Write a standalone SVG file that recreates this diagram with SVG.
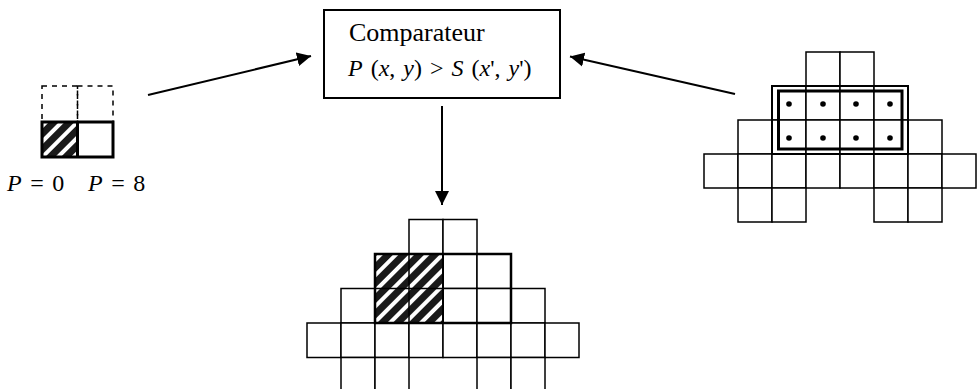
<svg xmlns="http://www.w3.org/2000/svg" width="978" height="389" viewBox="0 0 978 389">
<style>
.c{fill:#fff;stroke:#000;stroke-width:1.5}
.thick{fill:none;stroke:#000;stroke-width:3}
.conn{stroke:#000;stroke-width:2;fill:none}
.t{font-family:"Liberation Serif","Times New Roman",serif;fill:#000}
.i{font-style:italic}
</style>
<defs>
<pattern id="hatch" width="11" height="11" patternUnits="userSpaceOnUse" patternTransform="rotate(45)">
<rect width="11" height="11" fill="#fff"/>
<rect width="7" height="11" fill="#1a1a1a"/>
</pattern>
<marker id="ah" markerWidth="15" markerHeight="15" refX="14" refY="7.5" orient="auto" markerUnits="userSpaceOnUse">
<path d="M0,0.5 L14,7.5 L0,14.5 Z" fill="#000"/>
</marker>
</defs>
<rect width="978" height="389" fill="#fff"/>

<g id="connectors">
<line class="conn" x1="148" y1="95" x2="311" y2="56" marker-end="url(#ah)"/>
<line class="conn" x1="735" y1="94" x2="570" y2="56.5" marker-end="url(#ah)"/>
<line class="conn" x1="442" y1="106" x2="442" y2="205" marker-end="url(#ah)"/>
</g>

<g id="left-input">
<rect x="42" y="86" width="35.5" height="36" fill="none" stroke="#000" stroke-width="1.5" stroke-dasharray="5,5"/>
<rect x="77.5" y="86" width="35.5" height="36" fill="none" stroke="#000" stroke-width="1.5" stroke-dasharray="5,5"/>
<rect x="42" y="122" width="35.5" height="35" fill="url(#hatch)"/>
<rect x="42" y="122" width="71" height="35" class="thick"/>
<line x1="77.5" y1="122" x2="77.5" y2="157" stroke="#000" stroke-width="3"/>
<text class="t" x="7" y="191" font-size="24" word-spacing="2.5"><tspan class="i">P</tspan> = 0</text>
<text class="t" x="88" y="191" font-size="24" word-spacing="2.5"><tspan class="i">P</tspan> = 8</text>
</g>

<g id="comparator">
<rect x="324" y="10" width="236" height="88" fill="#fff" stroke="#000" stroke-width="2"/>
<text class="t" x="349" y="41" font-size="26">Comparateur</text>
<text class="t" x="348" y="76" font-size="24" word-spacing="2"><tspan class="i">P</tspan> (<tspan class="i">x</tspan>, <tspan class="i">y</tspan>) &gt; <tspan class="i">S</tspan> (<tspan class="i">x</tspan>', <tspan class="i">y</tspan>')</text>
</g>

<g id="reference-grid">
<rect class="c" x="806" y="52" width="34" height="34"/>
<rect class="c" x="840" y="52" width="34" height="34"/>
<rect class="c" x="772" y="86" width="34" height="34"/>
<rect class="c" x="806" y="86" width="34" height="34"/>
<rect class="c" x="840" y="86" width="34" height="34"/>
<rect class="c" x="874" y="86" width="34" height="34"/>
<rect class="c" x="738" y="120" width="34" height="34"/>
<rect class="c" x="772" y="120" width="34" height="34"/>
<rect class="c" x="806" y="120" width="34" height="34"/>
<rect class="c" x="840" y="120" width="34" height="34"/>
<rect class="c" x="874" y="120" width="34" height="34"/>
<rect class="c" x="908" y="120" width="34" height="34"/>
<rect class="c" x="704" y="154" width="34" height="34"/>
<rect class="c" x="738" y="154" width="34" height="34"/>
<rect class="c" x="772" y="154" width="34" height="34"/>
<rect class="c" x="806" y="154" width="34" height="34"/>
<rect class="c" x="840" y="154" width="34" height="34"/>
<rect class="c" x="874" y="154" width="34" height="34"/>
<rect class="c" x="908" y="154" width="34" height="34"/>
<rect class="c" x="942" y="154" width="34" height="34"/>
<rect class="c" x="738" y="188" width="34" height="34"/>
<rect class="c" x="772" y="188" width="34" height="34"/>
<rect class="c" x="874" y="188" width="34" height="34"/>
<rect class="c" x="908" y="188" width="34" height="34"/>
<rect x="772" y="86" width="136" height="68" fill="none" stroke="#000" stroke-width="2"/>
<rect x="778.5" y="91" width="123.5" height="58" fill="none" stroke="#000" stroke-width="3"/>
<g fill="#000">
<circle cx="789" cy="104" r="2.8"/>
<circle cx="823" cy="104" r="2.8"/>
<circle cx="856" cy="104" r="2.8"/>
<circle cx="890" cy="104" r="2.8"/>
<circle cx="789" cy="138" r="2.8"/>
<circle cx="823" cy="138" r="2.8"/>
<circle cx="856" cy="138" r="2.8"/>
<circle cx="890" cy="138" r="2.8"/>
</g>
</g>

<g id="result-grid">
<rect class="c" x="409" y="219.5" width="34" height="34.5"/>
<rect class="c" x="443" y="219.5" width="34" height="34.5"/>
<rect class="c" x="375" y="254" width="34" height="34.5"/>
<rect class="c" x="409" y="254" width="34" height="34.5"/>
<rect class="c" x="443" y="254" width="34" height="34.5"/>
<rect class="c" x="477" y="254" width="34" height="34.5"/>
<rect class="c" x="341" y="288.5" width="34" height="34.5"/>
<rect class="c" x="375" y="288.5" width="34" height="34.5"/>
<rect class="c" x="409" y="288.5" width="34" height="34.5"/>
<rect class="c" x="443" y="288.5" width="34" height="34.5"/>
<rect class="c" x="477" y="288.5" width="34" height="34.5"/>
<rect class="c" x="511" y="288.5" width="34" height="34.5"/>
<rect class="c" x="307" y="323" width="34" height="34.5"/>
<rect class="c" x="341" y="323" width="34" height="34.5"/>
<rect class="c" x="375" y="323" width="34" height="34.5"/>
<rect class="c" x="409" y="323" width="34" height="34.5"/>
<rect class="c" x="443" y="323" width="34" height="34.5"/>
<rect class="c" x="477" y="323" width="34" height="34.5"/>
<rect class="c" x="511" y="323" width="34" height="34.5"/>
<rect class="c" x="545" y="323" width="34" height="34.5"/>
<rect class="c" x="341" y="357.5" width="34" height="34.5"/>
<rect class="c" x="375" y="357.5" width="34" height="34.5"/>
<rect class="c" x="477" y="357.5" width="34" height="34.5"/>
<rect class="c" x="511" y="357.5" width="34" height="34.5"/>
<rect x="375" y="254" width="68" height="69" fill="url(#hatch)"/>
<line x1="375" y1="288.5" x2="443" y2="288.5" stroke="#000" stroke-width="1.5"/>
<line x1="409" y1="254" x2="409" y2="323" stroke="#000" stroke-width="1.5"/>
<rect x="375" y="254" width="136" height="69" fill="none" stroke="#000" stroke-width="2.5"/>
<line x1="443" y1="254" x2="443" y2="323" stroke="#000" stroke-width="2"/>
</g>
</svg>
